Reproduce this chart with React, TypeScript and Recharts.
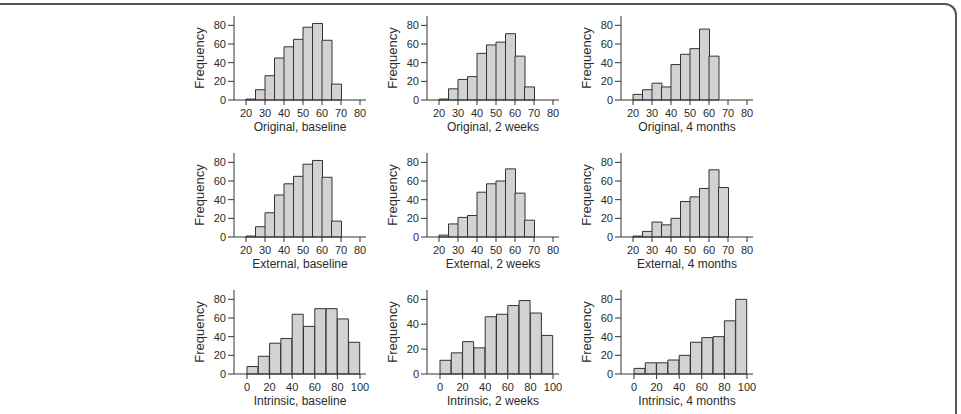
import React from "react";
import { BarChart, Bar, XAxis, YAxis } from "recharts";

// bin centres
const scoreBins = [22.5, 27.5, 32.5, 37.5, 42.5, 47.5, 52.5, 57.5, 62.5, 67.5];
const intrinsicBins = [5, 15, 25, 35, 45, 55, 65, 75, 85, 95];

// tick labels
const scoreTicks = [20, 30, 40, 50, 60, 70, 80];
const intrinsicTicks = [0, 20, 40, 60, 80, 100];
const freqTicks80 = [0, 20, 40, 60, 80];
const freqTicks60 = [0, 20, 40, 60];

// frequencies per bin
const originalBaseline = [1, 11, 26, 45, 57, 65, 78, 82, 64, 17];
const original2Weeks = [1, 12, 22, 25, 50, 59, 62, 71, 47, 14];
const original4Months = [6, 11, 18, 14, 38, 49, 55, 76, 47];
const externalBaseline = [1, 11, 26, 45, 57, 65, 78, 82, 64, 17];
const external2Weeks = [2, 14, 21, 23, 48, 57, 60, 73, 47, 18];
const external4Months = [1, 6, 16, 13, 20, 38, 43, 52, 72, 53];
const intrinsicBaseline = [8, 19, 33, 38, 64, 51, 70, 70, 59, 34];
const intrinsic2Weeks = [11, 17, 26, 21, 46, 48, 55, 59, 49, 31];
const intrinsic4Months = [6, 12, 12, 15, 20, 34, 39, 40, 57, 80];

type Panel = {
  title: string;
  bins: number[];
  values: number[];
  xTicks: number[];
  yTicks: number[];
};

const panels: Panel[] = [
  { title: "Original, baseline", bins: scoreBins, values: originalBaseline, xTicks: scoreTicks, yTicks: freqTicks80 },
  { title: "Original, 2 weeks", bins: scoreBins, values: original2Weeks, xTicks: scoreTicks, yTicks: freqTicks80 },
  { title: "Original, 4 months", bins: scoreBins, values: original4Months, xTicks: scoreTicks, yTicks: freqTicks80 },
  { title: "External, baseline", bins: scoreBins, values: externalBaseline, xTicks: scoreTicks, yTicks: freqTicks80 },
  { title: "External, 2 weeks", bins: scoreBins, values: external2Weeks, xTicks: scoreTicks, yTicks: freqTicks80 },
  { title: "External, 4 months", bins: scoreBins, values: external4Months, xTicks: scoreTicks, yTicks: freqTicks80 },
  { title: "Intrinsic, baseline", bins: intrinsicBins, values: intrinsicBaseline, xTicks: intrinsicTicks, yTicks: freqTicks80 },
  { title: "Intrinsic, 2 weeks", bins: intrinsicBins, values: intrinsic2Weeks, xTicks: intrinsicTicks, yTicks: freqTicks60 },
  { title: "Intrinsic, 4 months", bins: intrinsicBins, values: intrinsic4Months, xTicks: intrinsicTicks, yTicks: freqTicks80 },
];

const TEXT = "#2b2b2b";
const tickStyle = { fontSize: 11, fill: TEXT };

function Histogram({ panel }: { panel: Panel }) {
  const data = panel.values.map((v, i) => ({ mid: panel.bins[i], freq: v }));
  const xt = panel.xTicks;
  const yt = panel.yTicks;
  // leave some head room above the top tick, like the original plot region
  const yMax = yt[yt.length - 1] * 1.125;
  return (
    <BarChart
      width={183}
      height={127}
      data={data}
      margin={{ top: 6, right: 6, left: 0, bottom: 4 }}
      barCategoryGap={0}
      barGap={0}
    >
      <XAxis
        dataKey="mid"
        type="number"
        domain={[xt[0], xt[xt.length - 1]]}
        ticks={xt}
        interval={0}
        padding={{ left: xt[0] === 0 ? 13 : 12, right: 6 }}
        tick={tickStyle}
        tickSize={5}
        tickMargin={4}
        stroke="#333"
        height={33}
        label={{ value: panel.title, position: "insideBottom", offset: 2, fontSize: 12, fill: TEXT }}
      />
      <XAxis xAxisId="top" orientation="top" type="number" domain={[0, 1]} height={0} tick={false} tickLine={false} axisLine={{ stroke: "#9a9a9a" }} />
      <YAxis
        type="number"
        domain={[0, yMax]}
        ticks={yt}
        interval={0}
        width={45}
        tick={tickStyle}
        tickSize={6}
        stroke="#333"
        label={{ value: "Frequency", angle: -90, position: "insideLeft", offset: 10, fontSize: 13, fill: TEXT, style: { textAnchor: "middle" } }}
      />
      <YAxis yAxisId="right" orientation="right" type="number" domain={[0, 1]} width={0} tick={false} tickLine={false} axisLine={{ stroke: "#9a9a9a" }} />
      <Bar dataKey="freq" fill="#d2d2d2" stroke="#333" strokeWidth={1} isAnimationActive={false} />
    </BarChart>
  );
}

const colLeft = [234, 427, 621];
const rowTop = [16, 153, 290];

export default function App() {
  return (
    <div
      style={{
        position: "absolute",
        left: 0,
        top: 0,
        width: 961,
        height: 414,
        overflow: "hidden",
        background: "#fff",
        fontFamily: "'Liberation Sans', Arial, sans-serif",
      }}
    >
      <div
        style={{
          position: "absolute",
          left: -20,
          top: 3,
          width: 977,
          height: 500,
          boxSizing: "border-box",
          borderTop: "2px solid #555",
          borderRight: "2px solid #555",
          borderTopRightRadius: 12,
        }}
      />
      {panels.map((p, i) => (
        <div
          key={p.title}
          style={{ position: "absolute", left: colLeft[i % 3] - 45, top: rowTop[Math.floor(i / 3)] - 6 }}
        >
          <Histogram panel={p} />
        </div>
      ))}
    </div>
  );
}
